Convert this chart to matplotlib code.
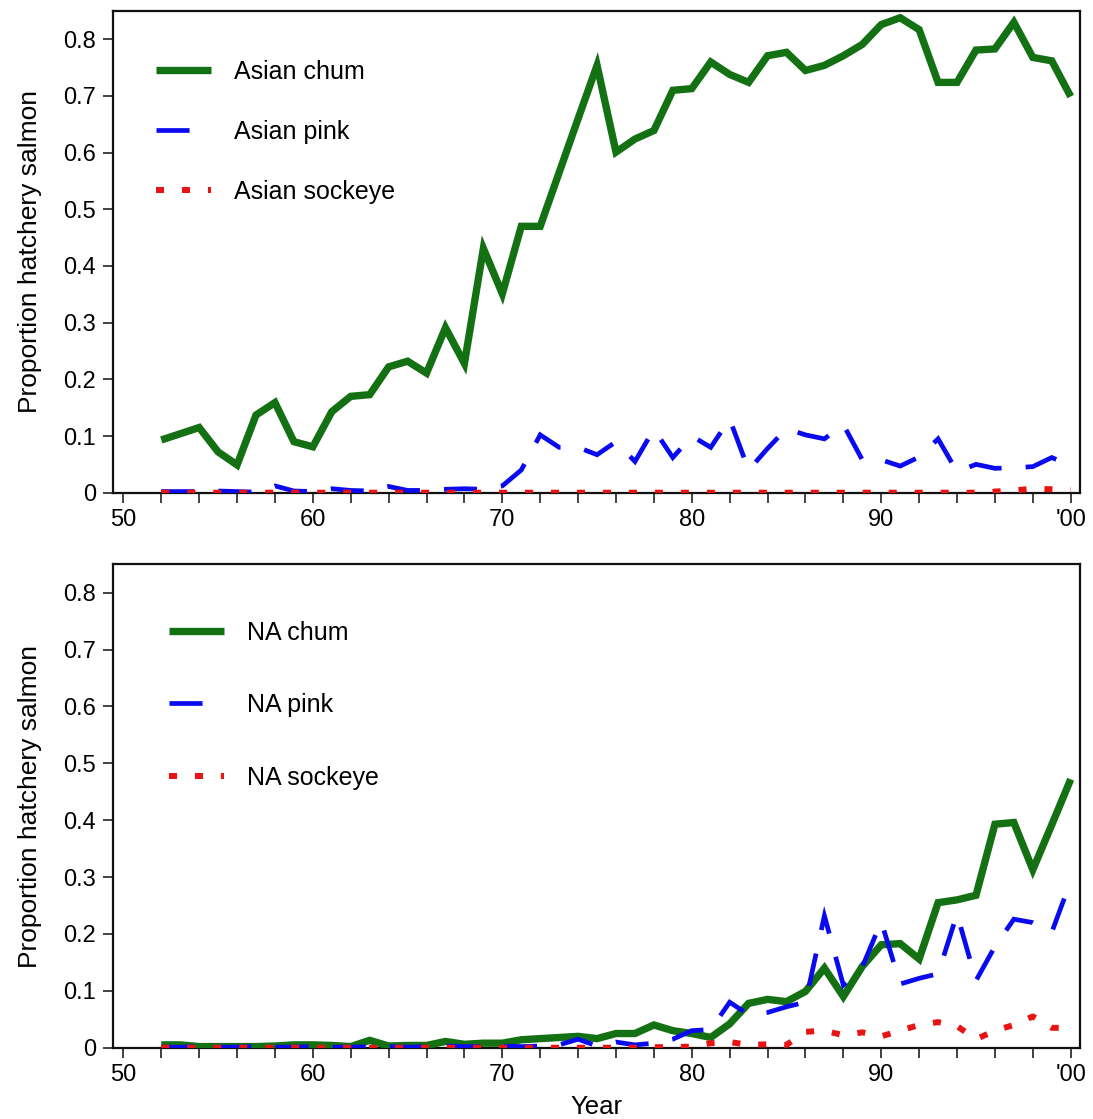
import matplotlib
matplotlib.use("Agg")
import matplotlib.pyplot as plt
from matplotlib.ticker import FixedLocator, MultipleLocator

plt.rcParams['font.family'] = ['Liberation Sans', 'DejaVu Sans']

# Release years 1952-2000
years = list(range(1952, 2001))

# Proportion of hatchery fish, Asian stocks
asian_chum = [0.093, 0.104, 0.115, 0.072, 0.049, 0.137, 0.159, 0.090, 0.081, 0.143,
              0.170, 0.173, 0.222, 0.232, 0.211, 0.291, 0.228, 0.431, 0.351, 0.470,
              0.470, 0.565, 0.660, 0.754, 0.601, 0.624, 0.639, 0.710, 0.713, 0.760,
              0.738, 0.724, 0.771, 0.777, 0.745, 0.754, 0.771, 0.791, 0.826, 0.838,
              0.817, 0.724, 0.724, 0.781, 0.783, 0.830, 0.768, 0.762, 0.699]
asian_pink = [0.002, 0.002, 0.002, 0.003, 0.002, 0.001, 0.012, 0.003, 0.002, 0.007,
              0.004, 0.003, 0.011, 0.004, 0.004, 0.006, 0.007, 0.006, 0.012, 0.040,
              0.102, 0.080, 0.080, 0.067, 0.090, 0.055, 0.112, 0.062, 0.100, 0.080,
              0.130, 0.040, 0.078, 0.113, 0.102, 0.095, 0.120, 0.058, 0.058, 0.047,
              0.063, 0.095, 0.037, 0.050, 0.043, 0.044, 0.046, 0.062, 0.048]
asian_sockeye = [0.0] * 44 + [0.002, 0.004, 0.007, 0.006, 0.005]

# Proportion of hatchery fish, North American stocks
na_chum = [0.005, 0.005, 0.002, 0.002, 0.002, 0.002, 0.003, 0.005, 0.005, 0.004,
           0.002, 0.013, 0.003, 0.004, 0.004, 0.011, 0.006, 0.008, 0.008, 0.014,
           0.016, 0.018, 0.020, 0.016, 0.025, 0.025, 0.040, 0.030, 0.025, 0.018,
           0.042, 0.078, 0.085, 0.081, 0.099, 0.140, 0.090, 0.143, 0.181, 0.183,
           0.156, 0.255, 0.260, 0.268, 0.393, 0.396, 0.313, 0.392, 0.472]
na_pink = [0.001, 0.001, 0.002, 0.001, 0.001, 0.002, 0.001, 0.001, 0.002, 0.001,
           0.001, 0.002, 0.002, 0.001, 0.002, 0.003, 0.002, 0.002, 0.003, 0.002,
           0.003, 0.005, 0.015, 0.003, 0.010, 0.005, 0.008, 0.015, 0.030, 0.032,
           0.080, 0.058, 0.062, 0.072, 0.080, 0.232, 0.110, 0.142, 0.222, 0.112,
           0.122, 0.130, 0.235, 0.118, 0.178, 0.226, 0.220, 0.203, 0.293]
na_sockeye = [0.0] * 26 + [0.001, 0.001, 0.002, 0.008,
              0.010, 0.005, 0.006, 0.005, 0.028, 0.030, 0.022, 0.027, 0.020, 0.030,
              0.040, 0.045, 0.038, 0.015, 0.030, 0.040, 0.055, 0.035, 0.035]

x_ticks = [1950, 1960, 1970, 1980, 1990, 2000]
x_tick_labels = ['50', '60', '70', '80', '90', "'00"]
y_ticks = [0, 0.1, 0.2, 0.3, 0.4, 0.5, 0.6, 0.7, 0.8]
y_tick_labels = ['0', '0.1', '0.2', '0.3', '0.4', '0.5', '0.6', '0.7', '0.8']

GREEN = '#137013'
BLUE = '#0a0af0'
RED = '#e81414'

fig = plt.figure(figsize=(10.93, 11.19), dpi=100)
ax_top = fig.add_axes([0.1037, 0.5597, 0.8844, 0.4305])
ax_bot = fig.add_axes([0.1037, 0.0637, 0.8844, 0.4320])


def draw_panel(ax, chum, pink, sockeye, labels, legend_spacing, legend_anchor):
    ax.plot(years, chum, color=GREEN, lw=5.3, solid_joinstyle='miter',
            solid_capstyle='butt', label=labels[0], zorder=3)
    ax.plot(years, pink, color=BLUE, lw=3.4, linestyle=(0, (7.0, 5.1)),
            dash_capstyle='butt', dash_joinstyle='miter', label=labels[1], zorder=4)
    ax.plot(years, sockeye, color=RED, lw=4.3, linestyle=(0, (1.35, 3.0)),
            dash_capstyle='butt', label=labels[2], zorder=5)

    ax.set_xlim(1949.47, 2000.49)
    ax.set_ylim(0, 0.85)
    ax.xaxis.set_major_locator(FixedLocator(x_ticks))
    ax.set_xticklabels(x_tick_labels)
    ax.xaxis.set_minor_locator(MultipleLocator(2))
    ax.set_yticks(y_ticks)
    ax.set_yticklabels(y_tick_labels)
    ax.tick_params(axis='both', which='both', direction='out', length=7,
                   width=1.2, labelsize=17, color='#222222')
    ax.tick_params(axis='x', pad=5)
    ax.tick_params(axis='y', pad=5.5)
    for s in ax.spines.values():
        s.set_linewidth(1.6)
        s.set_color('#111111')
    ax.set_ylabel('Proportion hatchery salmon', fontsize=19, labelpad=15)

    leg = ax.legend(loc='upper left', bbox_to_anchor=legend_anchor, frameon=False,
                    fontsize=18, handlelength=2.2, handletextpad=0.92,
                    labelspacing=legend_spacing, borderaxespad=0)
    return leg


draw_panel(ax_top, asian_chum, asian_pink, asian_sockeye,
           ['Asian chum', 'Asian pink', 'Asian sockeye'], 1.445, (0.0333, 0.920))
draw_panel(ax_bot, na_chum, na_pink, na_sockeye,
           ['NA chum', 'NA pink', 'NA sockeye'], 1.94, (0.0468, 0.904))
ax_bot.set_xlabel('Year', fontsize=18.5, labelpad=6)

fig.savefig('out.png', dpi=100)
